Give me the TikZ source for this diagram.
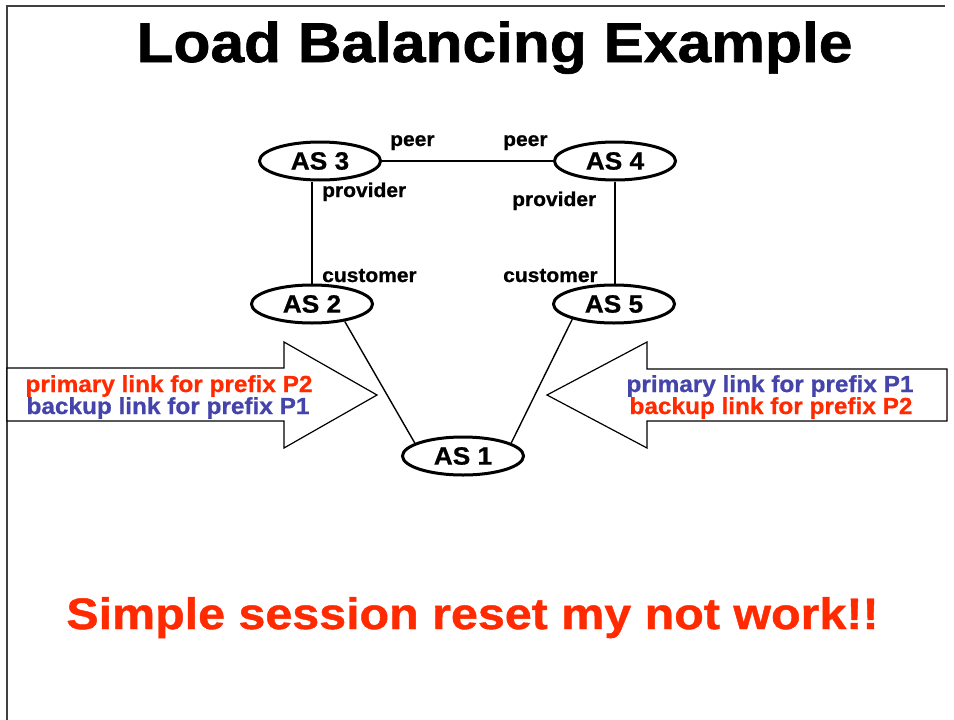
\documentclass[tikz,border=0pt]{standalone}
\usepackage{fontspec}
\setmainfont{Liberation Sans}
\newfontfamily\wide[FakeStretch=1.05, FakeBold=0.8]{Liberation Sans}
\newfontfamily\notefont[FakeStretch=1.1, FakeBold=1]{Liberation Sans}
\newfontfamily\headfont[FakeStretch=1.08, FakeBold=1.2]{Liberation Sans}
\usetikzlibrary{shapes.geometric}
\definecolor{alertred}{RGB}{255,42,0}
\definecolor{linkblue}{RGB}{68,68,170}

\begin{document}
\begin{tikzpicture}[x=1pt,y=-1pt,
  asnode/.style={ellipse, draw, line width=3pt, minimum width=121pt, minimum height=38pt,
    inner sep=0pt, font=\wide\bfseries\fontsize{25}{25}\selectfont},
  rel/.style={anchor=base west, inner sep=0pt, font=\wide\bfseries\fontsize{20}{20}\selectfont},
  link/.style={line width=1.4pt},
  hint/.style={anchor=base, inner sep=0pt, font=\wide\bfseries\fontsize{23.2}{23.2}\selectfont},
  bigarrow/.style={draw, fill=white, line width=1.2pt, line join=miter}
]
\useasboundingbox (0,0) rectangle (954,720);

% slide frame
\draw[line width=1.5pt, black!75] (7,720) -- (7,6) -- (945,6);

% title
\node (title) [anchor=base, inner sep=0pt, font=\headfont\bfseries\fontsize{56}{56}\selectfont]
  at (494.5,62) {Load Balancing Example};

% big hollow arrows
\draw[bigarrow] (7,368) -- (284,368) -- (284,342) -- (377,395) -- (284,448) -- (284,421) -- (7,421) -- cycle;
\draw[bigarrow] (947,369) -- (647,369) -- (647,342) -- (547,395) -- (647,448) -- (647,421) -- (947,421) -- cycle;

% autonomous systems
\node[asnode] (AS3) at (320,161) {AS 3};
\node[asnode] (AS4) at (615,161) {AS 4};
\node[asnode] (AS2) at (312,304) {AS 2};
\node[asnode] (AS5) at (614,304) {AS 5};
\node[asnode] (AS1) at (463,456) {AS 1};

% links
\draw[link] (AS3) -- (AS4);
\draw[link] (AS2.north |- AS3.south) -- (AS2.north);
\draw[link] (AS4.south) -- (AS4.south |- AS5.north);
\draw[link] (AS2.-28) -- (AS1.165);
\draw[link] (AS5.-160) -- (AS1.15);

% relationship labels
\node[rel] (peerL) at (390,146) {peer};
\node[rel] (peerR) at (503,146) {peer};
\node[rel] (provL) at (322,197) {provider};
\node[rel] (provR) at (512,206) {provider};
\node[rel] (custL) at (322,282) {customer};
\node[rel] (custR) at (503,282) {customer};

% arrow captions
\node[hint, text=alertred] (l1) at (169,392) {primary link for prefix P2};
\node[hint, text=linkblue] (l2) at (168,414) {backup link for prefix P1};
\node[hint, text=linkblue] (r1) at (770,392) {primary link for prefix P1};
\node[hint, text=alertred] (r2) at (771,414) {backup link for prefix P2};

% closing remark
\node (note) [anchor=base, inner sep=0pt, text=alertred, font=\notefont\bfseries\fontsize{44}{44}\selectfont]
  at (472.5,629) {Simple session reset my not work!!};
\end{tikzpicture}
\end{document}
